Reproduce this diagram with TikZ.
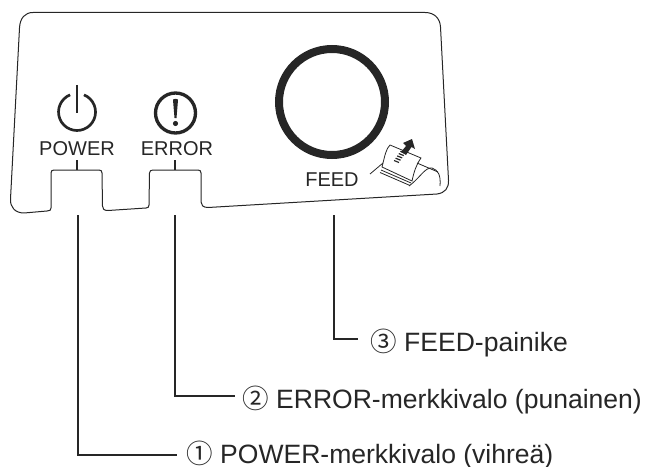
\documentclass[tikz,border=0pt]{standalone}
\usepackage{fontspec}
\setmainfont{Liberation Sans}
\newfontfamily\circledfont{Noto Sans CJK JP}
\usetikzlibrary{arrows}

\begin{document}
\begin{tikzpicture}[x=0.75pt,y=-0.75pt,
                    panel line/.style={draw=black!85,line width=0.75pt,line join=round},
                    leader line/.style={draw=black!85,line width=1.5pt},
                    panel text/.style={font=\fontsize{15}{18}\selectfont,text=black!85,inner sep=0pt},
                    callout/.style={font=\fontsize{19.9}{24}\selectfont,text=black!85,inner sep=0pt,anchor=base west},
                    printer line/.style={draw=black!85,line width=0.6pt}]
  \useasboundingbox (0,0) rectangle (646,467);
  % panel outline
  \draw[panel line] (33,12.5) -- (425,12.5) .. controls (434,12.5) and (440,18) .. (440.5,27)
    -- (448.5,180) .. controls (449,188) and (445,193) .. (437,194)
    -- (208,207.5) .. controls (203,207.5) and (201,205) .. (201,202)
    -- (201,173) .. controls (201,171) and (200,170) .. (198,170)
    -- (153,170) .. controls (151,170) and (149.5,171) .. (149.5,173)
    -- (149,205) .. controls (149,207) and (148,208) .. (146,208)
    -- (108,210.5) .. controls (104,210.5) and (102.5,209) .. (102.5,206)
    -- (102,173) .. controls (102,171) and (101,170) .. (99,170)
    -- (54,170) .. controls (52,170) and (51,171) .. (51,173)
    -- (51,208) .. controls (51,210) and (50,211) .. (47,211)
    -- (24,213) .. controls (15,213) and (10,207) .. (10.5,199)
    -- (19.5,28) .. controls (20,18) and (25,12.5) .. (33,12.5) -- cycle;
  % labels
  \node[panel text] (power) at (77,149) {POWER};
  \node[panel text] (error) at (177,149) {ERROR};
  \node[panel text] (feed) at (332,180) {FEED};
  \node[callout] (label3) at (370,351) {{\circledfont ③} FEED-painike};
  \node[callout] (label2) at (242,408) {{\circledfont ②} ERROR-merkkivalo (punainen)};
  \node[callout] (label1) at (186,463) {{\circledfont ①} POWER-merkkivalo (vihreä)};
  % feed button
  \node[circle,draw=black!85,line width=6pt,minimum size=79.5pt,inner sep=0pt] (button) at (332,102) {};
  % power icon
  \draw[draw=black!85,line width=2pt] (70.1,94.85) arc[start angle=-112,end angle=-428,radius=18.5];
  \draw[draw=black!85,line width=2.2pt] (77,85) -- (77,113);
  % error icon
  \node[circle,draw=black!85,line width=2.5pt,minimum size=30pt,inner sep=0pt] (erroricon) at (175.5,113) {};
  \fill[black!85] (173,100) .. controls (173,98.5) and (178,98.5) .. (178,100) -- (176.5,118) -- (174.5,118) -- cycle;
  \fill[black!85] (175.5,123.5) circle[radius=2.6];
  % printer icon
  \draw[printer line,fill=white] (382,167) .. controls (385,155) and (386,149) .. (390,145) -- (421,158) .. controls (416,165) and (414,172) .. (412,181) -- cycle;
  \draw[printer line] (370,174) -- (383,163);
  \draw[printer line] (381,170) -- (411,183) (380,172.5) -- (410,185.5);
  \draw[printer line] (409,186) .. controls (420,178) and (425,167) .. (432,168) .. controls (438,170) and (441,175) .. (440,186);
  \draw[printer line] (417,163) -- (438,172);
  \foreach \i in {0,1,2,3,4}
    \draw[draw=black!85,line width=0.9pt] (394+\i*1.6,160.5-\i*2.3) -- (399+\i*1.6,162.5-\i*2.3);
  \fill[black!85] (401,152) -- (406,146) -- (403,143) -- (412,139) -- (415,149) -- (411.5,147) -- (406,155) -- cycle;
  % leaders
  \coordinate (powerstart) at (77.5,215);
  \coordinate (errorstart) at (174.5,215);
  \coordinate (feedstart) at (334,215);
  \coordinate (powerend) at (177,455);
  \coordinate (errorend) at (235,396);
  \coordinate (feedend) at (358,339);
  \draw[leader line] (powerstart) |- (powerend);
  \draw[leader line] (errorstart) |- (errorend);
  \draw[leader line] (feedstart) |- (feedend);
  \draw[leader line] (power.south) ++(0,4) -- (77,170);
  \draw[leader line] (error.south) ++(-2,4) -- (175,170);
\end{tikzpicture}
\end{document}
